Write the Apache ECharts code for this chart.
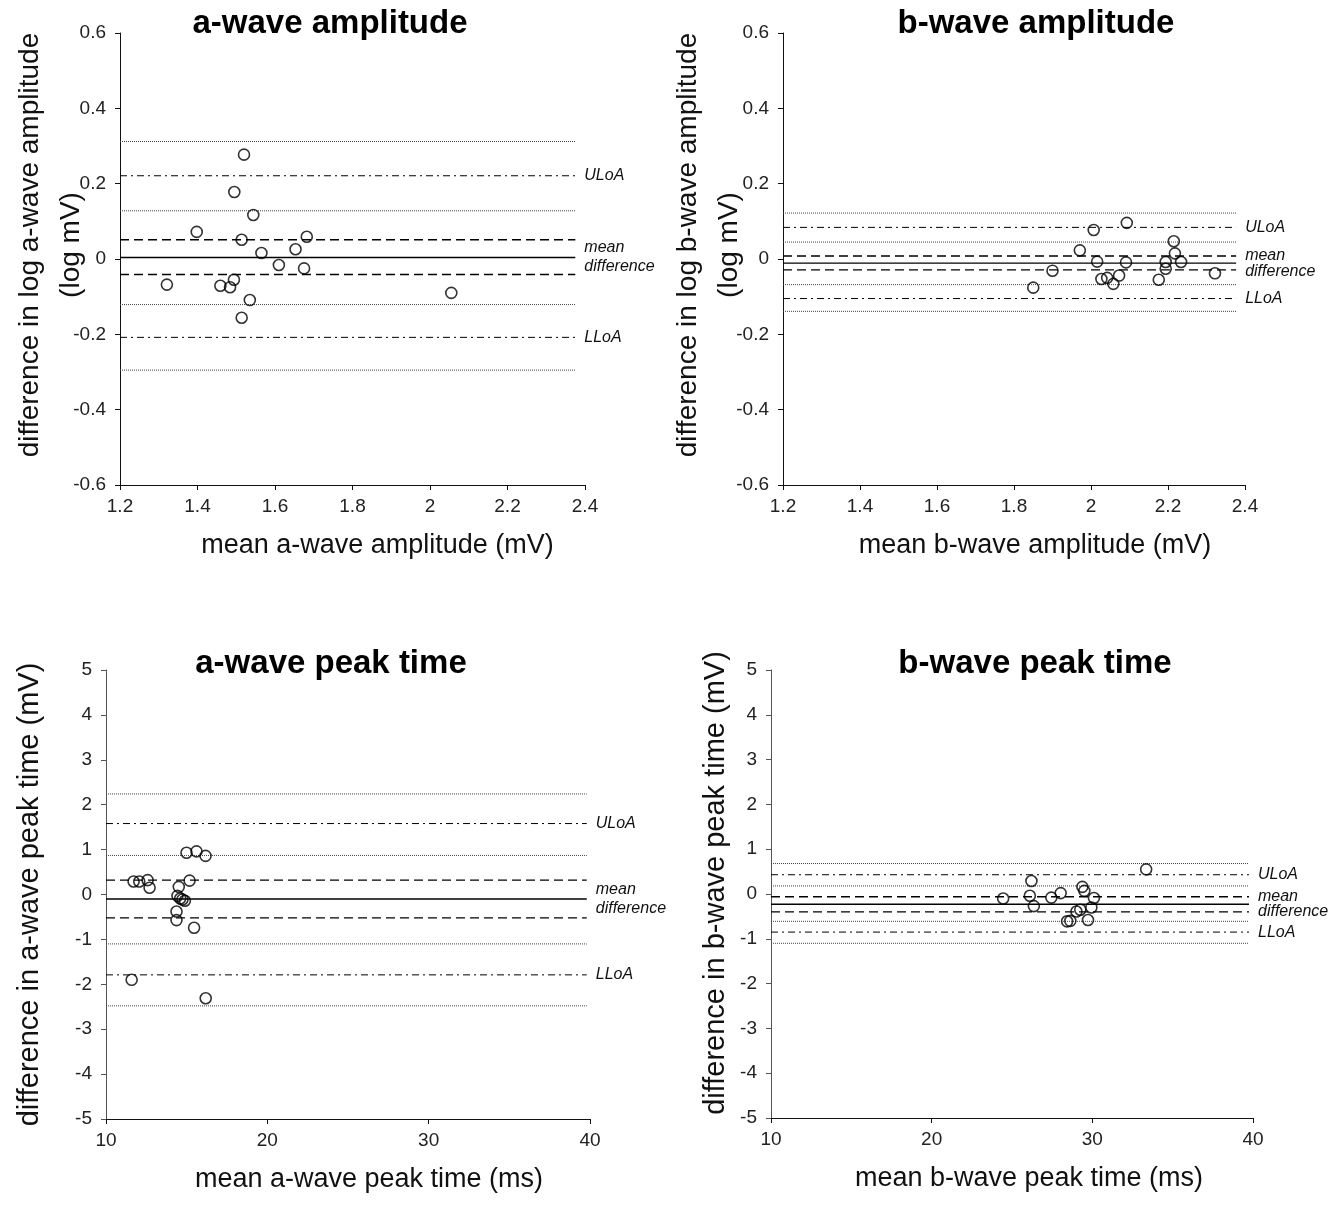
<!DOCTYPE html>
<html>
<head>
<meta charset="utf-8">
<script src="https://cdn.jsdelivr.net/npm/echarts@6/dist/echarts.min.js"></script>
<style>
    html, body { margin: 0; padding: 0; background: #fff; }
    #main { width: 1339px; height: 1205px; }
</style>
</head>
<body>
<div id="main"></div>
<script>
'use strict';

// a-wave amplitude: mean (mV) and difference in log amplitude (log mV)
var aAmpMean = [1.520, 1.495, 1.544, 1.398, 1.514, 1.682, 1.653, 1.565, 1.610, 1.675, 1.321, 1.459, 1.484, 1.494, 1.535, 1.514, 2.055];
var aAmpDiff = [0.277, 0.178, 0.117, 0.072, 0.051, 0.059, 0.026, 0.016, -0.016, -0.025, -0.068, -0.071, -0.075, -0.055, -0.109, -0.156, -0.090];

// b-wave amplitude
var bAmpMean = [1.850, 1.900, 1.971, 2.007, 2.093, 2.016, 2.091, 2.027, 2.042, 2.058, 2.073, 2.215, 2.218, 2.194, 2.234, 2.194, 2.176, 2.322];
var bAmpDiff = [-0.076, -0.031, 0.023, 0.077, 0.096, -0.007, -0.009, -0.053, -0.050, -0.066, -0.044, 0.047, 0.015, -0.008, -0.008, -0.026, -0.055, -0.038];

// a-wave peak time (ms)
var aTimeMean = [11.71, 12.06, 12.58, 12.70, 14.99, 15.61, 16.17, 15.18, 14.51, 14.43, 14.60, 14.89, 14.74, 14.37, 14.37, 15.46, 11.59, 16.18];
var aTimeDiff = [0.29, 0.29, 0.32, 0.15, 0.93, 0.96, 0.86, 0.31, 0.17, -0.03, -0.09, -0.14, -0.11, -0.38, -0.57, -0.74, -1.90, -2.31];

// b-wave peak time (ms)
var bTimeMean = [24.45, 26.21, 26.11, 26.36, 27.45, 28.03, 33.35, 29.38, 29.50, 30.10, 29.94, 29.25, 29.01, 28.43, 28.63, 29.73];
var bTimeDiff = [-0.10, 0.29, -0.04, -0.27, -0.08, 0.02, 0.55, 0.16, 0.07, -0.09, -0.30, -0.35, -0.39, -0.61, -0.60, -0.58];

// horizontal lines, top to bottom:
// ULoA upper CI, ULoA, ULoA lower CI, mean upper CI, mean, mean lower CI, LLoA upper CI, LLoA, LLoA lower CI
var aAmpLimits = [0.312, 0.221, 0.128, 0.051, 0.004, -0.041, -0.121, -0.208, -0.295];
var bAmpLimits = [0.122, 0.084, 0.045, 0.008, -0.011, -0.029, -0.068, -0.105, -0.139];
var aTimeLimits = [2.24, 1.58, 0.87, 0.32, -0.10, -0.52, -1.10, -1.79, -2.48];
var bTimeLimits = [0.68, 0.43, 0.18, -0.06, -0.23, -0.40, -0.61, -0.85, -1.10];

var limitKinds = ['dotted', 'dashdot', 'dotted', 'dashed', 'solid', 'dashed', 'dotted', 'dashdot', 'dotted'];
var limitNames = [null, 'ULoA', null, null, 'mean\ndifference', null, null, 'LLoA', null];

var titles = ['a-wave amplitude', 'b-wave amplitude', 'a-wave peak time', 'b-wave peak time'];
var xNames = ['mean a-wave amplitude (mV)', 'mean b-wave amplitude (mV)', 'mean a-wave peak time (ms)', 'mean b-wave peak time (ms)'];
var yNames = ['difference in log a-wave amplitude\n(log mV)', 'difference in log b-wave amplitude\n(log mV)',
    'difference in a-wave peak time (mV)', 'difference in b-wave peak time (mV)'];

var FONT = 'Liberation Sans, Arial, sans-serif';

var panels = [
    { mean: aAmpMean, diff: aAmpDiff, limits: aAmpLimits, xMin: 1.2, xMax: 2.4, xStep: 0.2, xEnd: 2.375,
      yMin: -0.6, yMax: 0.6, yStep: 0.2, dec: 1, grid: { left: 120, top: 33, width: 465, height: 452 },
      axisColor: '#111', yGap: 28, yPad: 28, yFont: 28, xPad: 50, lh: 19, titleX: 325, titleY: 2 },
    { mean: bAmpMean, diff: bAmpDiff, limits: bAmpLimits, xMin: 1.2, xMax: 2.4, xStep: 0.2, xEnd: 2.377,
      yMin: -0.6, yMax: 0.6, yStep: 0.2, dec: 1, grid: { left: 783, top: 33, width: 462, height: 452 },
      axisColor: '#111', yGap: 33, yPad: 28, yFont: 28, xPad: 42, lh: 16, titleX: 1031, titleY: 2 },
    { mean: aTimeMean, diff: aTimeDiff, limits: aTimeLimits, xMin: 10, xMax: 40, xStep: 10, xEnd: 39.8,
      yMin: -5, yMax: 5, yStep: 1, dec: 0, grid: { left: 106, top: 670, width: 484, height: 449 },
      axisColor: '#555', yGap: 56, yPad: 0, yFont: 29, xPad: 42, lh: 19, titleX: 326, titleY: 642 },
    { mean: bTimeMean, diff: bTimeDiff, limits: bTimeLimits, xMin: 10, xMax: 40, xStep: 10, xEnd: 39.75,
      yMin: -5, yMax: 5, yStep: 1, dec: 0, grid: { left: 771, top: 670, width: 482, height: 448 },
      axisColor: '#555', yGap: 35, yPad: 22, yFont: 29, xPad: 34, lh: 15, titleX: 1030, titleY: 642 }
];

function dashFor(kind) {
    if (kind === 'dotted') return [1, 1];
    if (kind === 'dashdot') return [7, 4, 2, 4];
    if (kind === 'dashed') return [9, 5];
    return 'solid';
}

function buildOption() {
    var grids = [], xAxes = [], yAxes = [], series = [], title = [];

    panels.forEach(function (p, i) {
        var g = Object.assign({ outerBoundsMode: 'none', containLabel: false }, p.grid);
        grids.push(g);
        title.push({
            text: titles[i],
            left: p.titleX,
            top: p.titleY,
            textAlign: 'center',
            textStyle: { fontFamily: FONT, fontSize: 33, fontWeight: 'bold', color: '#000' }
        });
        xAxes.push({
            type: 'value', gridIndex: i, min: p.xMin, max: p.xMax, interval: p.xStep,
            name: xNames[i], nameLocation: 'middle', nameGap: 47, nameMoveOverlap: false,
            nameTextStyle: { fontFamily: FONT, fontSize: 27, color: '#111', padding: [0, 0, 0, p.xPad] },
            axisLine: { onZero: false, lineStyle: { color: '#111', width: 1 } },
            axisTick: { length: 5, lineStyle: { color: '#111' } },
            axisLabel: {
                fontFamily: FONT, fontSize: 19, color: '#222', margin: 12,
                formatter: function (v) { return String(+v.toFixed(1)); }
            },
            splitLine: { show: false }
        });
        yAxes.push({
            type: 'value', gridIndex: i, min: p.yMin, max: p.yMax, interval: p.yStep,
            name: yNames[i], nameLocation: 'middle', nameGap: p.yGap, nameRotate: 90,
            nameMoveOverlap: false,
            nameTextStyle: {
                fontFamily: FONT, fontSize: p.yFont, color: '#111', lineHeight: 41,
                padding: [0, 0, 0, p.yPad]
            },
            axisLine: { onZero: false, lineStyle: { color: p.axisColor, width: 1 } },
            axisTick: { length: 5, lineStyle: { color: p.axisColor } },
            axisLabel: {
                fontFamily: FONT, fontSize: 19, color: '#222', margin: 14,
                formatter: function (v) { return String(+v.toFixed(p.dec)); }
            },
            splitLine: { show: false }
        });

        p.limits.forEach(function (v, k) {
            var kind = limitKinds[k];
            var s = {
                type: 'line', xAxisIndex: i, yAxisIndex: i,
                data: [[p.xMin, v], [p.xEnd, v]],
                symbol: 'none', silent: true, z: 1,
                lineStyle: {
                    color: kind === 'dotted' ? '#444' : '#000',
                    width: kind === 'dotted' ? 1 : (kind === 'dashdot' ? 1 : 1.4),
                    type: dashFor(kind)
                }
            };
            if (limitNames[k]) {
                s.endLabel = {
                    show: true, formatter: limitNames[k], distance: 9,
                    fontFamily: FONT, fontSize: 16, fontStyle: 'italic', color: '#111',
                    lineHeight: p.lh
                };
            }
            series.push(s);
        });

        series.push({
            type: 'scatter', xAxisIndex: i, yAxisIndex: i, z: 5,
            data: p.mean.map(function (m, k) { return [m, p.diff[k]]; }),
            symbol: 'circle', symbolSize: 11,
            itemStyle: { color: 'rgba(0,0,0,0)', borderColor: '#000', borderWidth: 1.6 }
        });
    });

    return {
        backgroundColor: '#fff',
        animation: false,
        title: title,
        grid: grids,
        xAxis: xAxes,
        yAxis: yAxes,
        series: series
    };
}

var myChart = echarts.init(document.getElementById('main'));
myChart.setOption(buildOption());
</script>
</body>
</html>
